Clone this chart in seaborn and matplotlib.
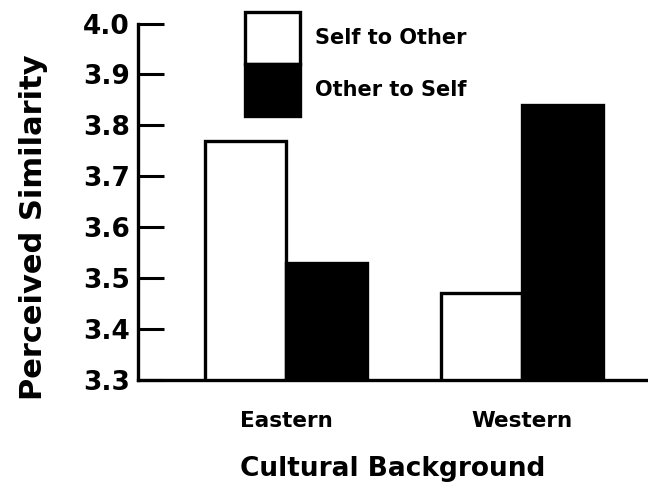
import matplotlib
matplotlib.use("Agg")
import matplotlib.pyplot as plt
import seaborn as sns
import pandas as pd

# values
groups = ["Eastern", "Western"]
self_to_other = [3.77, 3.47]
other_to_self = [3.53, 3.84]
series_names = ["Self to Other", "Other to Self"]
y_ticks = [3.3, 3.4, 3.5, 3.6, 3.7, 3.8, 3.9, 4.0]

df = pd.DataFrame({
    "Cultural Background": groups * 2,
    "Perceived Similarity": self_to_other + other_to_self,
    "Direction": [series_names[0]] * len(groups) + [series_names[1]] * len(groups),
})

sns.set_style("ticks")
plt.rcParams["font.family"] = ["DejaVu Sans"]
plt.rcParams["font.weight"] = "bold"
plt.rcParams["text.color"] = "black"
plt.rcParams["axes.labelcolor"] = "black"
plt.rcParams["xtick.color"] = "black"
plt.rcParams["ytick.color"] = "black"
plt.rcParams["axes.edgecolor"] = "black"

fig = plt.figure(figsize=(6.48, 4.91), dpi=100)
ax = fig.add_axes([0.213, 0.226, 0.787, 0.726])

sns.barplot(data=df, x="Cultural Background", y="Perceived Similarity",
            hue="Direction", palette=["white", "black"], edgecolor="black",
            linewidth=2.4, width=0.69, ax=ax)

ax.set_ylim(3.3, 4.0)
ax.set_xlim(-0.627, 1.534)
ax.set_yticks(y_ticks)
ax.set_yticklabels([f"{t:.1f}" for t in y_ticks], fontsize=19, fontweight="bold")
ax.tick_params(axis="y", direction="in", length=19, width=2.2, pad=6)
ax.tick_params(axis="x", length=0, pad=22, labelsize=15.5)
for lbl in ax.get_xticklabels():
    lbl.set_fontweight("bold")

sns.despine(ax=ax)
for side in ["left", "bottom"]:
    ax.spines[side].set_linewidth(2.4)

ax.set_xlabel("Cultural Background", fontsize=19, fontweight="bold", labelpad=18)
ax.set_ylabel("Perceived Similarity", fontsize=22, fontweight="bold", labelpad=25, y=0.43)

handles, labels = ax.get_legend_handles_labels()
ax.legend(handles, labels, loc="upper left", bbox_to_anchor=(245 / 648, 1 - 12 / 491),
          bbox_transform=fig.transFigure, frameon=False, fontsize=15,
          handlelength=2.64, handleheight=3.46, labelspacing=0, borderpad=0,
          handletextpad=0.7, borderaxespad=0)

fig.savefig("out.png", dpi=100)
